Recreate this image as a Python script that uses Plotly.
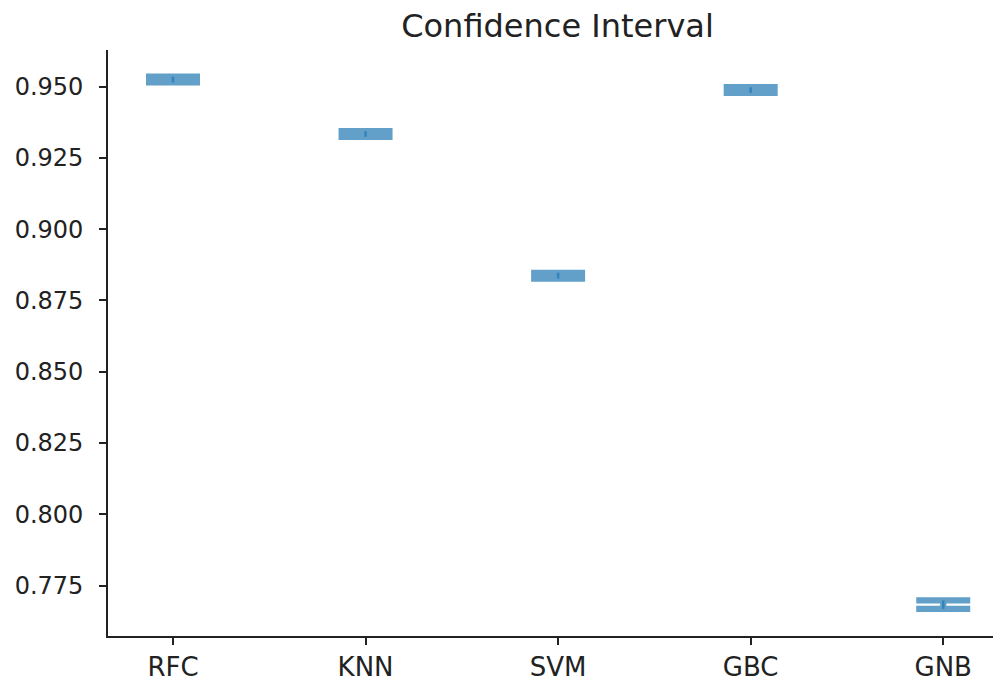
import plotly.graph_objects as go

models = ["RFC", "KNN", "SVM", "GBC", "GNB"]
means = [0.9525, 0.9334, 0.8837, 0.9488, 0.7683]
half_ci = [0.0010, 0.0010, 0.0010, 0.0010, 0.0015]

y_ticks = [0.775, 0.800, 0.825, 0.850, 0.875, 0.900, 0.925, 0.950]

blue = "rgba(31,119,180,0.7)"

fig = go.Figure()
# caps
fig.add_trace(go.Scatter(
    x=models, y=means, mode="markers",
    marker=dict(size=1, color="rgba(0,0,0,0)"),
    error_y=dict(type="data", array=half_ci, symmetric=True,
                 color=blue, thickness=6.3, width=27),
    showlegend=False, hoverinfo="skip",
))
# central stems
fig.add_trace(go.Scatter(
    x=models, y=means, mode="markers",
    marker=dict(size=1, color="rgba(0,0,0,0)"),
    error_y=dict(type="data", array=half_ci, symmetric=True,
                 color=blue, thickness=2.5, width=0),
    showlegend=False, hoverinfo="skip",
))

font_fam = "DejaVu Sans"
# page body has an 8px offset; compensate so the plot lands where the reference has it
fig.update_layout(
    width=993, height=675,
    margin=dict(l=100, r=0, t=42, b=47),
    paper_bgcolor="white", plot_bgcolor="white",
    title=dict(text="Confidence Interval", x=(557.5 - 8) / 993, xref="container",
               xanchor="center", y=1 - (25.5 - 8) / 675, yref="container",
               yanchor="middle",
               font=dict(family=font_fam, size=32, color="#222")),
    font=dict(family=font_fam, color="#222"),
)
fig.update_xaxes(
    type="category", range=[-0.3375, 4.30],
    showgrid=False, zeroline=False,
    showline=True, linecolor="#222", linewidth=1.6,
    ticks="outside", ticklen=7, tickwidth=1.5, tickcolor="#222",
    tickfont=dict(family=font_fam, size=26, color="#222"),
    mirror=False,
)
fig.update_yaxes(
    range=[0.75729, 0.96287],
    tickvals=y_ticks, ticktext=[f"{v:.3f}" for v in y_ticks],
    showgrid=False, zeroline=False,
    showline=True, linecolor="#222", linewidth=1.6,
    ticks="outside", ticklen=7, tickwidth=1.5, tickcolor="#222",
    tickfont=dict(family=font_fam, size=24, color="#222"),
    ticklabelstandoff=11,
    mirror=False,
)

fig.write_html("out.html")
